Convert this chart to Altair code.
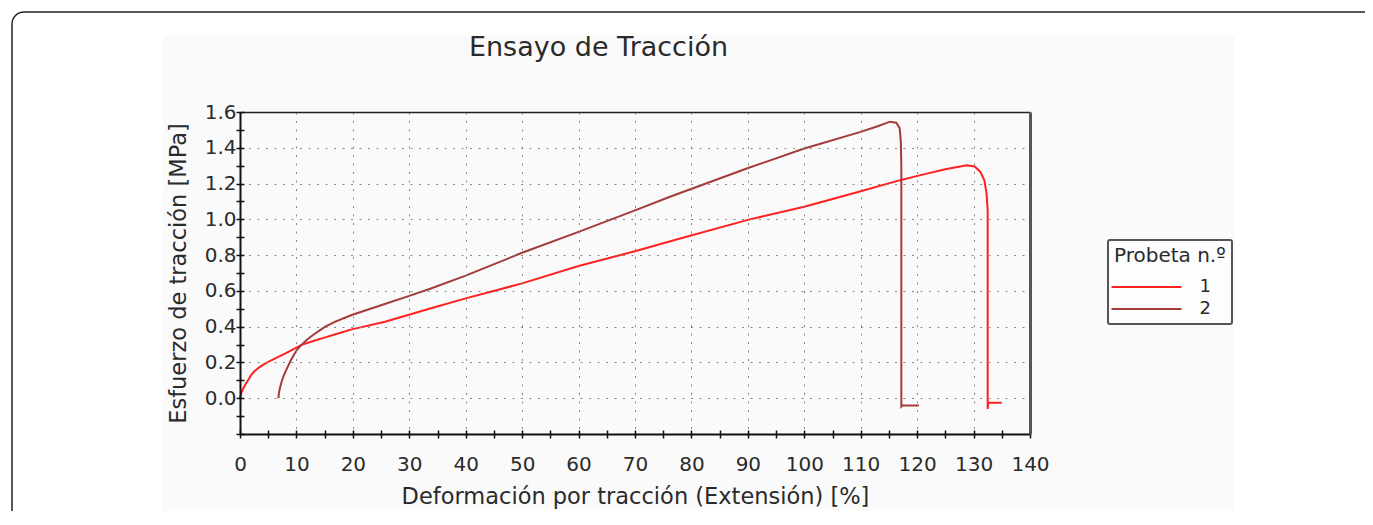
import altair as alt
import pandas as pd

# ---------------- text ----------------
title_text = "Ensayo de Tracción"
x_title = "Deformación por tracción (Extensión) [%]"
y_title = "Esfuerzo de tracción [MPa]"
legend_title = "Probeta n.º"
series_names = ["1", "2"]
series_colors = ["#ff2020", "#a33b3b"]

# ---------------- ticks ----------------
x_ticks = [0, 5, 10, 15, 20, 25, 30, 35, 40, 45, 50, 55, 60, 65, 70, 75,
           80, 85, 90, 95, 100, 105, 110, 115, 120, 125, 130, 135, 140]
y_ticks = [-0.2, -0.1, 0.0, 0.1, 0.2, 0.3, 0.4, 0.5, 0.6, 0.7, 0.8, 0.9,
           1.0, 1.1, 1.2, 1.3, 1.4, 1.5, 1.6]

# ---------------- data ----------------
s1_x = [0, 0.2, 0.5, 1.0, 1.5, 2.0, 2.6, 3.3, 4.0, 5.0, 6.0, 6.8, 8.5, 10.9,
        13.0, 15.1, 17.5, 19.8, 25.7, 29.8, 33.7, 40, 50, 60, 70, 78, 90,
        100, 110, 117, 120.6, 125, 128.8, 130.2, 131.2, 131.9, 132.3, 132.5,
        132.5, 132.6, 135]
s1_y = [0, 0.025, 0.05, 0.08, 0.105, 0.13, 0.152, 0.17, 0.185, 0.203, 0.219,
        0.231, 0.258, 0.298, 0.32, 0.34, 0.363, 0.385, 0.428, 0.465, 0.502,
        0.558, 0.642, 0.739, 0.822, 0.893, 0.997, 1.07, 1.157, 1.219, 1.247,
        1.28, 1.302, 1.295, 1.265, 1.219, 1.145, 1.05, -0.06, -0.025, -0.025]

s2_x = [6.8, 6.9, 7.1, 7.4, 7.8, 8.3, 8.9, 9.5, 10.2, 10.9, 11.8, 13.0, 15.1,
        17.0, 19.8, 25, 30, 33.7, 40, 50, 60, 70, 76.2, 89.8, 100, 110, 113,
        115.2, 116.3, 116.9, 117.1, 117.2, 117.2, 117.4, 120.3]
s2_y = [0, 0.03, 0.06, 0.095, 0.13, 0.165, 0.205, 0.24, 0.275, 0.298, 0.325,
        0.355, 0.40, 0.43, 0.465, 0.52, 0.572, 0.612, 0.685, 0.813, 0.93,
        1.05, 1.126, 1.284, 1.396, 1.489, 1.52, 1.546, 1.54, 1.51, 1.44, 1.3,
        -0.047, -0.041, -0.041]

rows = []
for name, xs, ys in [(series_names[0], s1_x, s1_y), (series_names[1], s2_x, s2_y)]:
    for i, (xv, yv) in enumerate(zip(xs, ys)):
        rows.append({"x": xv, "y": yv, "probeta": name, "i": i})
df = pd.DataFrame(rows)

FONT = "DejaVu Sans"
TXT = "#2a2a2a"

x_scale = alt.Scale(domain=[0, 140], nice=False, zero=False)
y_scale = alt.Scale(domain=[-0.2, 1.6], nice=False, zero=False)

x_axis = alt.Axis(
    values=x_ticks, title=x_title, labelExpr="datum.value % 10 === 0 ? datum.label : ''",
    format="d", labelOverlap=False, labelFlush=False,
    domainColor="#111", domainWidth=2, tickColor="#111", tickWidth=1.5, tickSize=4,
    labelPadding=16, labelFont=FONT, labelFontSize=20, labelColor=TXT,
    titleFont=FONT, titleFontSize=22.5, titleFontWeight="normal", titleColor=TXT,
    titleX=395, titleY=69, titleBaseline="alphabetic", titleAlign="center",
    grid=True, gridColor="#888", gridDash=[2, 6.5], gridWidth=1,
    gridOpacity={"condition": {"test": "datum.value % 10 !== 0 || datum.value <= 0 || datum.value >= 140", "value": 0}, "value": 1},
    zindex=1,
)
y_axis = alt.Axis(
    values=y_ticks, title=y_title, format=".1f",
    labelExpr="(round(datum.value*10) % 2 === 0 && datum.value > -0.05) ? format(datum.value, '.1f') : ''",
    labelOverlap=False, labelFlush=False,
    domainColor="#111", domainWidth=2, tickColor="#111", tickWidth=1.5, tickSize=4,
    labelPadding=0, labelFont=FONT, labelFontSize=20, labelColor=TXT,
    titleFont=FONT, titleFontSize=22.5, titleFontWeight="normal", titleColor=TXT,
    titleX=-55, titleY=161, titleAngle=270, titleBaseline="alphabetic", titleAlign="center",
    grid=True, gridColor="#888", gridDash=[2, 6.5], gridWidth=1,
    gridOpacity={"condition": {"test": "round(datum.value*10) % 2 !== 0 || datum.value < -0.05 || datum.value > 1.55", "value": 0}, "value": 1},
    zindex=1,
)

legend = alt.Legend(
    title=legend_title, orient="none", legendX=868, legendY=128,
    symbolType="M-5,0H5", symbolSize=196, symbolStrokeWidth=2,
    symbolOffset=23.5, labelOffset=44, rowPadding=4, padding=6, titlePadding=12,
    strokeColor="#555", cornerRadius=2, fillColor="#fdfdfd",
    titleFont=FONT, titleFontSize=20, titleFontWeight="normal", titleColor=TXT,
    labelFont=FONT, labelFontSize=18, labelColor=TXT,
)

# decorative frame and panel background
one = alt.Data(values=[{}])
border = alt.Chart(one).mark_rect(
    fill="white", fillOpacity=0, stroke="#222", strokeWidth=1.5, cornerRadius=12
).encode(x=alt.value(-228), x2=alt.value(1400), y=alt.value(-100), y2=alt.value(700))
panel = alt.Chart(one).mark_rect(fill="#fafafa").encode(
    x=alt.value(-77), x2=alt.value(995), y=alt.value(-77), y2=alt.value(400)
)

lines = alt.Chart(df).mark_line(strokeWidth=2).encode(
    x=alt.X("x:Q", scale=x_scale, axis=x_axis),
    y=alt.Y("y:Q", scale=y_scale, axis=y_axis),
    color=alt.Color("probeta:N", scale=alt.Scale(domain=series_names, range=series_colors), legend=legend),
    order="i:Q",
    detail="probeta:N",
)

# inner half of the crossing ticks
inner = alt.Chart(df).mark_line(opacity=0).encode(
    x=alt.X("x:Q", scale=x_scale, axis=alt.Axis(
        orient="bottom", offset=-4, values=x_ticks, domain=False, labels=False, grid=False,
        tickColor="#111", tickWidth=1.5, tickSize=4, title=None, zindex=1)),
    y=alt.Y("y:Q", scale=y_scale, axis=alt.Axis(
        orient="left", offset=-4, values=y_ticks, domain=False, labels=False, grid=False,
        tickColor="#111", tickWidth=1.5, tickSize=4, title=None, zindex=1)),
    detail="probeta:N",
)

# top and right frame
frame = alt.Chart(df).mark_line(opacity=0).encode(
    x=alt.X("x:Q", scale=x_scale, axis=alt.Axis(
        orient="top", domain=True, domainColor="#222", domainWidth=1.5, ticks=False,
        labels=False, grid=False, title=None, zindex=1)),
    y=alt.Y("y:Q", scale=y_scale, axis=alt.Axis(
        orient="right", domain=True, domainColor="#555", domainWidth=3, ticks=False,
        labels=False, grid=False, title=None, zindex=1)),
    detail="probeta:N",
)

chart = alt.layer(border, panel, lines, inner, frame).resolve_axis(
    x="independent", y="independent"
).properties(
    width=790, height=322,
    autosize=alt.AutoSizeParams(type="none"),
    padding={"left": 232, "top": 104, "right": 335, "bottom": 77},
    background="white",
    title=alt.TitleParams(
        text=title_text, anchor="middle", frame="group", orient="top",
        offset=-72, dx=-36.5, baseline="alphabetic",
        font=FONT, fontSize=27, fontWeight="normal", color=TXT,
    ),
).configure_view(stroke="transparent").configure_legend(strokeWidth=2)

chart.save("out.html", embed_options={"renderer": "svg", "actions": False})
